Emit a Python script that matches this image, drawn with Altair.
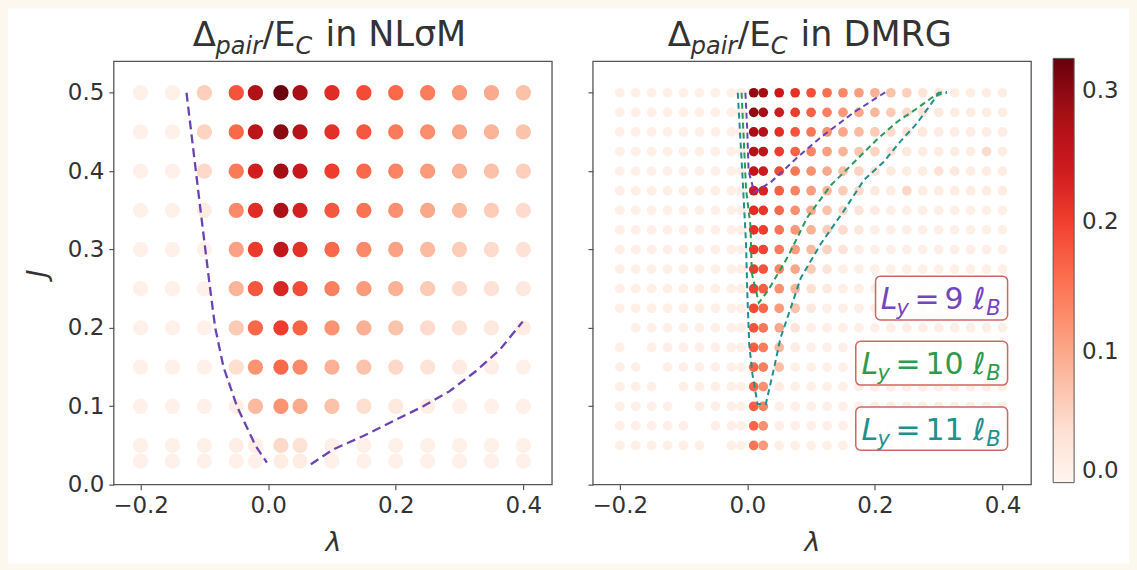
import altair as alt
import pandas as pd

FONT = "DejaVu Sans"
TXT = "#333333"
FRAME = "#555555"
W, H = 439, 424

# ---------------- data: NLsigmaM panel ----------------
lam_L = [-0.2, -0.15, -0.1, -0.05, -0.02, 0.02, 0.05, 0.1, 0.15, 0.2, 0.25, 0.3, 0.35, 0.4]
J_L = [0.5, 0.45, 0.4, 0.35, 0.3, 0.25, 0.2, 0.15, 0.1, 0.05, 0.03]
gap_L = [
    [0.010, 0.010, 0.059, 0.182, 0.273, 0.322, 0.280, 0.221, 0.189, 0.163, 0.143, 0.117, 0.098, 0.075],
    [0.010, 0.010, 0.055, 0.163, 0.260, 0.302, 0.267, 0.215, 0.179, 0.146, 0.127, 0.104, 0.088, 0.072],
    [0.010, 0.010, 0.049, 0.146, 0.237, 0.286, 0.247, 0.202, 0.163, 0.137, 0.114, 0.091, 0.075, 0.059],
    [0.010, 0.010, 0.016, 0.130, 0.221, 0.276, 0.234, 0.179, 0.153, 0.124, 0.101, 0.081, 0.062, 0.046],
    [0.010, 0.010, 0.010, 0.107, 0.205, 0.254, 0.215, 0.163, 0.130, 0.107, 0.081, 0.062, 0.046, 0.036],
    [0.010, 0.010, 0.010, 0.088, 0.179, 0.228, 0.189, 0.140, 0.114, 0.091, 0.065, 0.046, 0.036, 0.023],
    [0.010, 0.010, 0.010, 0.065, 0.163, 0.202, 0.169, 0.120, 0.091, 0.072, 0.046, 0.036, 0.023, 0.016],
    [0.010, 0.010, 0.010, 0.042, 0.120, 0.163, 0.130, 0.091, 0.072, 0.049, 0.033, 0.020, 0.013, 0.010],
    [0.010, 0.010, 0.010, 0.013, 0.081, 0.120, 0.098, 0.075, 0.042, 0.023, 0.013, 0.010, 0.010, 0.010],
    [0.010, 0.010, 0.010, 0.013, 0.013, 0.049, 0.036, 0.010, 0.010, 0.010, 0.010, 0.010, 0.010, 0.010],
    [0.010, 0.010, 0.010, 0.010, 0.010, 0.016, 0.016, 0.010, 0.010, 0.010, 0.010, 0.010, 0.010, 0.010],
]

# boundary curves (NLsigmaM)
nlsm_a_lam = [-0.128, -0.106, -0.091, -0.083, -0.070, -0.049, -0.020, -0.002]
nlsm_a_J = [0.500, 0.350, 0.250, 0.200, 0.150, 0.100, 0.050, 0.028]
nlsm_b_lam = [0.067, 0.102, 0.149, 0.196, 0.243, 0.284, 0.326, 0.363, 0.399]
nlsm_b_J = [0.026, 0.045, 0.062, 0.081, 0.100, 0.119, 0.145, 0.172, 0.208]

# ---------------- data: DMRG panel ----------------
lam_R = [-0.2, -0.175, -0.15, -0.125, -0.1, -0.075, -0.05, -0.025, -0.01, 0.01, 0.025,
         0.05, 0.075, 0.1, 0.125, 0.15, 0.175, 0.2, 0.225, 0.25, 0.275, 0.3, 0.325, 0.35, 0.375, 0.4]
J_R = [0.5, 0.475, 0.45, 0.425, 0.4, 0.375, 0.35, 0.325, 0.3, 0.275, 0.25, 0.225, 0.2,
       0.175, 0.15, 0.125, 0.1, 0.075, 0.05]
f = 0.012
N = None
gap_R = [
    [f, f, f, f, f, f, f, f, f, 0.299, 0.286, 0.244, 0.215, 0.185, 0.156, 0.130, 0.111, 0.091, 0.072, 0.059, 0.033, 0.023, 0.016, 0.016, 0.016, 0.016],
    [f, f, f, f, f, f, f, f, f, 0.299, 0.283, 0.241, 0.202, 0.169, 0.140, 0.117, 0.101, 0.085, 0.065, 0.046, 0.033, 0.023, 0.016, 0.016, 0.016, 0.016],
    [f, f, f, f, f, f, f, f, f, 0.283, 0.273, 0.218, 0.182, 0.150, 0.124, 0.101, 0.081, 0.065, 0.046, 0.033, 0.023, 0.016, 0.016, 0.016, 0.016, 0.016],
    [f, f, f, f, f, f, f, f, f, 0.273, 0.257, 0.202, 0.169, 0.137, 0.111, 0.088, 0.068, 0.055, 0.033, 0.023, 0.016, 0.016, 0.016, 0.016, 0.046, 0.016],
    [f, f, f, f, f, f, f, f, f, 0.257, 0.241, 0.189, 0.150, 0.124, 0.098, 0.075, 0.055, 0.033, 0.023, 0.016, 0.016, 0.036, 0.026, 0.016, 0.016, 0.016],
    [f, f, f, f, f, f, f, f, f, 0.241, 0.231, 0.172, 0.137, 0.111, 0.085, 0.062, 0.046, 0.023, 0.016, 0.050, 0.016, 0.016, 0.016, 0.016, 0.016, 0.016],
    [f, f, f, f, f, f, f, f, f, 0.221, 0.211, 0.163, 0.124, 0.098, 0.072, 0.049, 0.033, 0.020, f, f, f, f, f, f, f, f],
    [f, f, f, f, f, f, f, f, f, 0.215, 0.202, 0.150, 0.117, 0.088, 0.062, 0.046, 0.026, f, f, f, f, f, f, f, f, f],
    [f, f, f, f, f, f, f, f, f, 0.208, 0.195, 0.143, 0.111, 0.081, 0.055, 0.033, f, f, f, f, f, f, f, f, f, f],
    [f, f, f, f, f, f, f, f, f, 0.202, 0.182, 0.133, 0.101, 0.065, 0.033, f, f, f, f, f, f, f, f, f, f, f],
    [f, f, f, f, f, f, f, f, f, 0.195, 0.172, 0.124, 0.088, 0.039, 0.023, f, f, f, f, f, f, f, f, f, f, f],
    [f, f, f, f, f, f, f, f, f, 0.192, 0.166, 0.114, 0.072, 0.026, f, f, f, f, f, f, f, f, f, f, f, f],
    [N, f, f, f, f, f, f, f, f, 0.182, 0.150, 0.101, 0.033, f, f, f, f, f, f, f, f, f, f, f, f, f],
    [f, N, f, f, f, f, f, f, f, 0.172, 0.143, 0.085, 0.020, f, f, f, f, f, f, f, f, f, f, f, f, f],
    [f, f, N, f, f, f, f, f, f, 0.166, 0.140, 0.078, f, f, f, f, f, f, f, f, f, f, f, f, f, f],
    [f, f, f, N, f, f, f, f, f, 0.166, 0.124, 0.020, f, f, f, f, f, f, f, f, f, f, f, f, f, f],
    [f, f, f, f, N, f, f, f, f, 0.172, 0.137, f, f, f, f, f, f, f, f, f, f, f, f, f, f, f],
    [f, f, f, f, f, N, f, f, f, 0.166, 0.124, f, f, f, f, f, f, f, f, f, f, f, f, f, f, f],
    [f, f, f, f, f, f, N, f, f, 0.150, 0.114, f, f, f, f, f, f, f, f, f, f, f, f, f, f, f],
]

ly9_lam = [-0.003, 0.000, 0.002, 0.011, 0.037, 0.079, 0.115, 0.167, 0.217]
ly9_J = [0.500, 0.450, 0.400, 0.373, 0.386, 0.418, 0.443, 0.475, 0.501]
ly10_lam = [-0.009, -0.002, 0.005, 0.007, 0.018, 0.032, 0.063, 0.094, 0.131, 0.167, 0.204, 0.235, 0.266, 0.300, 0.313]
ly10_J = [0.500, 0.377, 0.330, 0.270, 0.232, 0.247, 0.290, 0.341, 0.382, 0.411, 0.441, 0.463, 0.480, 0.500, 0.501]
ly11_lam = [-0.015, -0.008, -0.002, 0.000, 0.003, 0.008, 0.016, 0.029, 0.042, 0.052, 0.084, 0.115, 0.151, 0.183, 0.214, 0.240, 0.266, 0.298, 0.313]
ly11_J = [0.500, 0.400, 0.307, 0.243, 0.179, 0.141, 0.103, 0.103, 0.149, 0.187, 0.264, 0.307, 0.349, 0.389, 0.412, 0.438, 0.461, 0.497, 0.500]

# legend boxes (in data coordinates of the DMRG panel)
box_num = ["9", "10", "11"]
box_col = ["#7446bd", "#2f9a4e", "#22908f"]
box_lam0 = [0.201, 0.170, 0.170]
box_lam1 = [0.408, 0.408, 0.408]
box_J0 = [0.210, 0.127, 0.044]
box_J1 = [0.266, 0.183, 0.099]
box_txt_start = [0.209, 0.179, 0.179]
box_txt_end = [0.397, 0.397, 0.397]

LINE9 = "#6b44b2"
LINE10 = "#2a9a55"
LINE11 = "#1f8f8f"

# ---------------- scales ----------------
reds = ["#fff5f0", "#fee0d2", "#fcbba1", "#fc9272", "#fb6a4a", "#ef3b2c", "#cb181d", "#a50f15", "#67000d"]
vmax = 0.325
stops = [round(vmax * i / 8, 5) for i in range(9)]
cscale = alt.Scale(domain=stops, range=reds, interpolate="rgb", clamp=True)
xs = alt.Scale(domain=[-0.242, 0.445], nice=False, zero=False)
ys = alt.Scale(domain=[0.0, 0.54], nice=False, zero=False)


def grid_df(lams, Js, vals):
    rec = []
    for j, row in zip(Js, vals):
        for l, v in zip(lams, row):
            if v is not None:
                rec.append({"lam": l, "J": j, "gap": v})
    return pd.DataFrame(rec)


def line_df(lams, Js):
    return pd.DataFrame({"lam": lams, "J": Js, "i": list(range(len(lams)))})


dummy = pd.DataFrame({"a": [0]})

X_AXIS = alt.Axis(values=[-0.2, 0.0, 0.2, 0.4], format=".1f", labelFontSize=23, labelColor=TXT,
                  labelFont=FONT, tickColor=FRAME, tickSize=5, tickWidth=1.2, domain=False, grid=False,
                  title="λ", titleFont=FONT, titleFontSize=27, titleFontStyle="italic",
                  titleFontWeight="normal", titleColor=TXT, titlePadding=12, labelPadding=5, zindex=1)
Y_AXIS_L = alt.Axis(values=[0, 0.1, 0.2, 0.3, 0.4, 0.5], format=".1f", labelFontSize=23,
                    labelColor=TXT, labelFont=FONT, tickColor=FRAME, tickSize=5, tickWidth=1.2,
                    domain=False, grid=False, title="J", titleFont=FONT, titleFontSize=27,
                    titleFontStyle="italic", titleFontWeight="normal", titleColor=TXT,
                    titlePadding=16, labelPadding=5, zindex=1)
Y_AXIS_R = alt.Axis(values=[0, 0.1, 0.2, 0.3, 0.4, 0.5], labels=False, tickColor=FRAME, tickSize=5,
                    tickWidth=1.2, domain=False, grid=False, title="", zindex=1)


def XE(field, ax):
    return alt.X(field, type="quantitative", scale=xs, axis=ax)


def YE(field, ax):
    return alt.Y(field, type="quantitative", scale=ys, axis=ax)


def points(df, size, yax, legend):
    return alt.Chart(df).mark_point(filled=True, opacity=1, size=size, strokeWidth=0).encode(
        x=XE("lam", X_AXIS),
        y=YE("J", yax),
        color=alt.Color("gap:Q", scale=cscale, legend=legend),
    )


def dashed(df, color, dash, width, yax):
    return alt.Chart(df).mark_line(color=color, strokeDash=dash, strokeWidth=width).encode(
        x=XE("lam", X_AXIS),
        y=YE("J", yax),
        order="i:O",
    )


def ptext(s, x, y, size, italic=False):
    return alt.Chart(dummy).mark_text(text=s, font=FONT, fontSize=size, color=TXT, align="left",
                                      baseline="alphabetic",
                                      fontStyle="italic" if italic else "normal").encode(
        x=alt.value(x), y=alt.value(y))


def title_layers(x0, rest):
    F, S = 34, 24
    yb = -15
    return [
        ptext("Δ", x0, yb, F),
        ptext("pair", x0 + 23, yb + 8, S, True),
        ptext("/E", x0 + 70, yb, F),
        ptext("C", x0 + 103, yb + 8, S, True),
        ptext(rest, x0 + 133, yb, 35),
    ]


frame = alt.Chart(dummy).mark_rect(filled=False, stroke=FRAME, strokeWidth=1.3).encode(
    x=alt.value(0), x2=alt.value(W), y=alt.value(0), y2=alt.value(H))

paper = alt.Chart(dummy).mark_rect(color="white").encode(
    x=alt.value(-106), x2=alt.value(1017), y=alt.value(-53), y2=alt.value(503))

legend = alt.Legend(orient="none", legendX=941, legendY=-3, direction="vertical",
                    gradientLength=425, gradientThickness=21, values=[0.0, 0.1, 0.2, 0.3],
                    format=".1f", title=None, labelFontSize=23, labelColor=TXT, labelFont=FONT,
                    gradientStrokeColor=FRAME, gradientStrokeWidth=1, labelOffset=8,
                    labelOverlap=False)

# ---------------- left panel ----------------
left = alt.layer(
    paper,
    points(grid_df(lam_L, J_L, gap_L), 235, Y_AXIS_L, legend),
    dashed(line_df(nlsm_a_lam, nlsm_a_J), LINE9, [9, 5], 2.3, Y_AXIS_L),
    dashed(line_df(nlsm_b_lam, nlsm_b_J), LINE9, [9, 5], 2.3, Y_AXIS_L),
    frame,
    *title_layers(79, "in NLσM"),
).properties(width=W, height=H)

# ---------------- right panel ----------------
box_layers = []
for k in range(3):
    bdf = pd.DataFrame({"lam": [box_lam0[k]], "l1": [box_lam1[k]], "J": [box_J0[k]], "j1": [box_J1[k]],
                        "ts": [box_txt_start[k]], "te": [box_txt_end[k]],
                        "jm": [(box_J0[k] + box_J1[k]) / 2]})
    col = box_col[k]
    box_layers.append(alt.Chart(bdf).mark_rect(fill="white", fillOpacity=0.85, stroke="#cf6666",
                                               strokeWidth=1.5, cornerRadius=5).encode(
        x=XE("lam", X_AXIS), x2="l1:Q",
        y=YE("J", Y_AXIS_R), y2="j1:Q"))

    def piece(xf, text, size, italic, align, dx, dy, bdf=bdf, col=col):
        return alt.Chart(bdf).mark_text(text=text, font=FONT, fontSize=size, color=col, align=align,
                                        baseline="alphabetic", dx=dx, dy=dy,
                                        fontStyle="italic" if italic else "normal").encode(
            x=XE(xf, X_AXIS), y=YE("jm", Y_AXIS_R))

    box_layers += [
        piece("ts", "L", 30, True, "left", 0, 11),
        piece("ts", "y", 21, True, "left", 16, 17),
        piece("ts", "=", 30, False, "left", 34, 11),
        piece("te", box_num[k], 30, False, "right", -37, 11),
        piece("te", "ℓ", 30, True, "right", -15, 11),
        piece("te", "B", 21, True, "right", 0, 17),
    ]

right = alt.layer(
    points(grid_df(lam_R, J_R, gap_R), 95, Y_AXIS_R, None),
    dashed(line_df(ly9_lam, ly9_J), LINE9, [6, 4], 2, Y_AXIS_R),
    dashed(line_df(ly10_lam, ly10_J), LINE10, [6, 4], 2, Y_AXIS_R),
    dashed(line_df(ly11_lam, ly11_J), LINE11, [6, 4], 2, Y_AXIS_R),
    *box_layers,
    frame,
    *title_layers(75, "in DMRG"),
).properties(width=W, height=H)

chart = alt.hconcat(left, right, spacing=41, bounds="flush").properties(
    padding={"left": 7, "right": 7, "top": 7, "bottom": 7}
).configure(background="#fdf8ee").configure_view(stroke="transparent")

chart.save("out.html", embed_options={"renderer": "svg", "actions": False})
